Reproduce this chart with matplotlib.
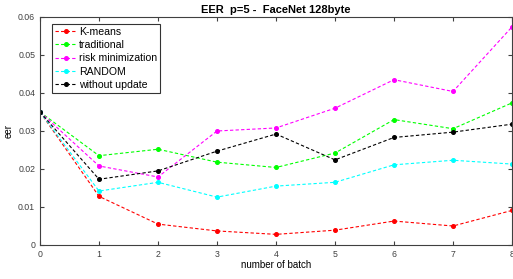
import matplotlib
matplotlib.use('Agg')
import matplotlib.pyplot as plt


batches = [0, 1, 2, 3, 4, 5, 6, 7, 8]

kmeans = [0.035, 0.0128, 0.0055, 0.0037, 0.0028, 0.0039, 0.0063, 0.0050, 0.0091]
traditional = [0.035, 0.0235, 0.0252, 0.0218, 0.0204, 0.0242, 0.0330, 0.0306, 0.0374]
risk_min = [0.035, 0.0208, 0.0179, 0.0300, 0.0308, 0.0360, 0.0435, 0.0404, 0.0574]
random_sel = [0.035, 0.0142, 0.0165, 0.0126, 0.0155, 0.0165, 0.0211, 0.0223, 0.0213]
no_update = [0.035, 0.0173, 0.0195, 0.0247, 0.0292, 0.0224, 0.0283, 0.0297, 0.0318]

series = [
    ('K-means', kmeans, '#ff0000'),
    ('traditional', traditional, '#00ff00'),
    ('risk minimization', risk_min, '#ff00ff'),
    ('RANDOM', random_sel, '#00ffff'),
    ('without update', no_update, '#000000'),
]

plt.rcParams['font.family'] = ['Liberation Sans', 'DejaVu Sans']
plt.rcParams['font.size'] = 7

fig = plt.figure(figsize=(5.13, 2.79), dpi=100)
ax = fig.add_axes([40 / 513, 1 - 245 / 279, 472 / 513, 228 / 279])

for name, values, color in series:
    ax.plot(batches, values, linestyle='--', dashes=(3, 2), color=color,
            linewidth=0.8, marker='o', markersize=2.6, label=name)

ax.set_xlim(0, 8)
ax.set_ylim(0, 0.06)
ax.set_yticks([0, 0.01, 0.02, 0.03, 0.04, 0.05, 0.06])
ax.set_yticklabels(['0', '0.01', '0.02', '0.03', '0.04', '0.05', '0.06'])
ax.tick_params(direction='in', top=True, right=True, length=3,
               colors='#404040', labelcolor='#404040', labelsize=6.3)
for spine in ax.spines.values():
    spine.set_color('#404040')
    spine.set_linewidth(0.8)

ax.set_xlabel('number of batch', fontsize=7, labelpad=1)
ax.set_ylabel('eer', fontsize=7, labelpad=3)
ax.set_title('EER  p=5 -  FaceNet 128byte', fontsize=8, fontweight='bold', pad=3)

leg = ax.legend(loc='upper left', bbox_to_anchor=(0.026, 0.97), fontsize=7.6,
                frameon=True, fancybox=False, handlelength=2.0,
                handletextpad=0.2, borderpad=0.3, labelspacing=0.3,
                borderaxespad=0)
leg.get_frame().set_edgecolor('black')
leg.get_frame().set_linewidth(0.8)

plt.savefig('out.png', dpi=100)
